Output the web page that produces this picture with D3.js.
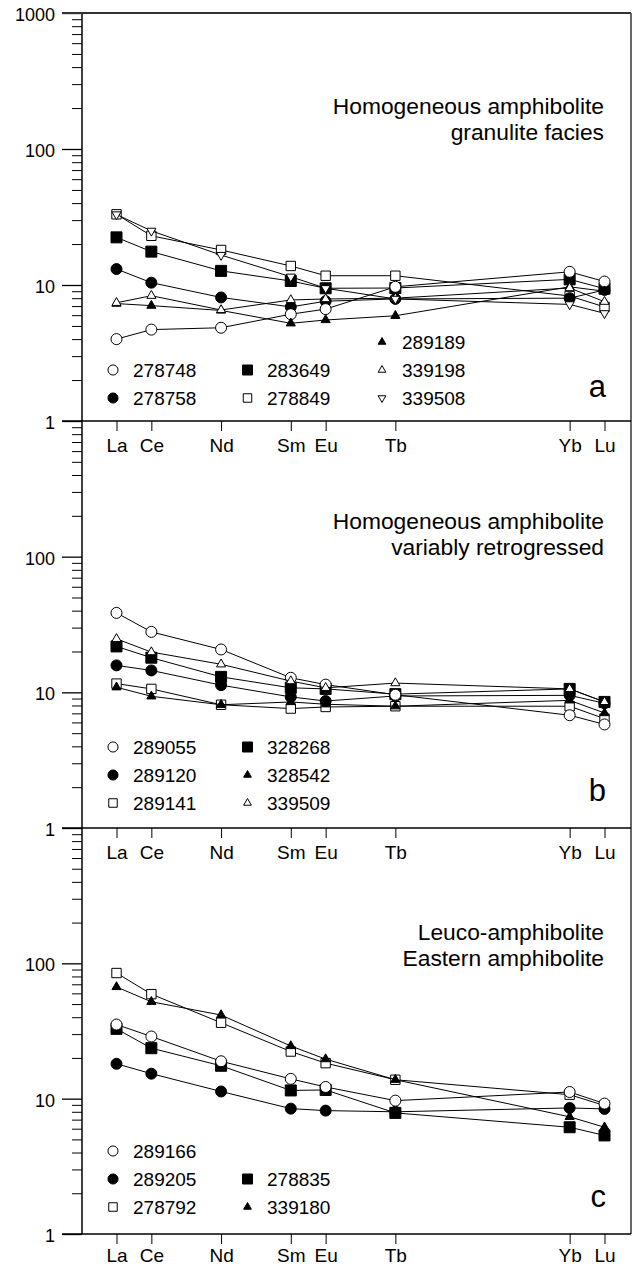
<!DOCTYPE html>
<html><head><meta charset="utf-8">
<script src="https://cdn.jsdelivr.net/npm/d3@7"></script>
<style>
body{margin:0;background:#fff}
svg{display:block}
text{font-family:"Liberation Sans",Arial,Helvetica,sans-serif;fill:#000}
</style>
</head><body>
<svg id="chart" width="634" height="1267"></svg>
<script>
// ---------- data ----------
const elements = ["La","Ce","Nd","Sm","Eu","Tb","Yb","Lu"];
const atomicNumbers = [57,58,60,62,63,65,70,71];
const yMajorTop = [1,10,100,1000];
const yMajorRest = [1,10,100];
const yMinor = [2,3,4,5,6,7,8,9,20,30,40,50,60,70,80,90,200,300,400,500,600,700,800,900];

// panel a (draw order)
const samplesA = ["283649","278849","278758","278748","289189","339198","339508"];
const symbolsA = ["square-filled","square-open","circle-filled","circle-open","triangle-filled","triangle-open","triangledown-open"];
const valuesA = [
  [22.4,17.6,12.7,10.7,9.46,9.5,11.0,9.4],
  [33.1,23.0,18.1,13.8,11.7,11.7,8.3,6.9],
  [13.1,10.4,8.1,6.9,7.6,7.9,8.0,9.2],
  [4.0,4.7,4.85,6.1,6.65,9.7,12.5,10.6],
  [7.3,7.05,6.5,5.23,5.53,5.94,9.7,9.0],
  [7.4,8.34,6.55,7.76,7.89,8.0,9.5,7.54],
  [33.0,25.0,16.6,11.5,9.46,7.9,7.2,6.19]
];
const legendA = [[null,null,"289189"],["278748","283649","339198"],["278758","278849","339508"]];

// panel b
const samplesB = ["328268","289141","289120","289055","328542","339509"];
const symbolsB = ["square-filled","square-open","circle-filled","circle-open","triangle-filled","triangle-open"];
const valuesB = [
  [21.8,18.0,13.0,10.8,10.6,9.7,10.6,8.5],
  [11.6,10.6,8.1,7.59,7.8,7.9,7.9,6.4],
  [15.8,14.5,11.3,9.25,8.63,9.4,9.5,8.3],
  [38.5,27.9,20.7,12.8,11.4,9.6,6.78,5.8],
  [10.9,9.35,8.1,8.49,8.17,7.9,8.73,7.04],
  [24.8,19.8,16.1,12.1,10.8,11.7,10.6,8.5]
];
const legendB = [["289055","328268"],["289120","328542"],["289141","339509"]];

// panel c
const samplesC = ["278835","278792","289205","289166","339180"];
const symbolsC = ["square-filled","square-open","circle-filled","circle-open","triangle-filled"];
const valuesC = [
  [32.8,23.6,17.5,11.5,11.6,7.85,6.15,5.35],
  [84.8,59.2,36.4,22.3,18.3,13.8,10.7,8.9],
  [18.1,15.3,11.3,8.44,8.16,8.0,8.54,8.4],
  [35.3,28.8,18.9,14.0,12.2,9.67,11.2,9.2],
  [66.9,52.0,41.5,24.5,19.6,13.8,7.34,6.15]
];
const legendC = [["289166",null],["289205","278835"],["278792","339180"]];

const titles = [
  ["Homogeneous amphibolite","granulite facies"],
  ["Homogeneous amphibolite","variably retrogressed"],
  ["Leuco-amphibolite","Eastern amphibolite"]
];
const letters = ["a","b","c"];

// ---------- layout ----------
const FONT = "'Liberation Sans',Arial,Helvetica,sans-serif";
const AXIS_X = 82, RIGHT = 631;
const panels = [
  {top:13,  bottom:421,  major:yMajorTop,  samples:samplesA, symbols:symbolsA, values:valuesA, legend:legendA, titleY:114, letterY:397, legendY:342, xPad:7.5},
  {top:421, bottom:828,  major:yMajorRest, samples:samplesB, symbols:symbolsB, values:valuesB, legend:legendB, titleY:529, letterY:801, legendY:747, xPad:7.5},
  {top:828, bottom:1234, major:yMajorRest, samples:samplesC, symbols:symbolsC, values:valuesC, legend:legendC, titleY:940, letterY:1207, legendY:1151, xPad:4.5}
];
const legendMarkerX = [113,247.5,382];
const legendTextX = [133,267,402];
const legendRowGap = 28;

const svg = d3.select("#chart");
const x = d3.scaleLinear().domain([57,71]).range([116.5,604.5]);

function symPath(sym, legend){
  const [shape, fill] = sym.split("-");
  let type, size;
  if (shape === "circle"){ type = d3.symbolCircle; size = legend ? 80 : 95; }
  else if (shape === "square"){ type = d3.symbolSquare; size = fill === "filled" ? (legend ? 100 : 121) : (legend ? 72 : 88); }
  else { type = d3.symbolTriangle; size = legend ? 26 : 36; }
  return d3.symbol().type(type).size(size)();
}
function drawSym(g, sym, cx, cy, legend){
  const fill = sym.endsWith("filled") ? "#000" : "#fff";
  const rot = sym.startsWith("triangledown") ? " rotate(180)" : "";
  g.append("path").attr("d", symPath(sym, legend))
    .attr("transform", `translate(${cx},${cy})${rot}`)
    .attr("fill", fill).attr("stroke", "#000").attr("stroke-width", 1);
}

panels.forEach((p, pi) => {
  const y = d3.scaleLog().domain([1,1000]).range([p.bottom, p.top]);
  const g = svg.append("g");

  g.append("g").attr("transform", `translate(${AXIS_X},0)`)
    .call(d3.axisLeft(y).tickValues(yMinor).tickSize(10).tickFormat(""))
    .call(s => s.select(".domain").remove())
    .attr("color", "#000");
  const ya = g.append("g").attr("transform", `translate(${AXIS_X},0)`)
    .call(d3.axisLeft(y).tickValues(p.major).tickSize(20).tickPadding(7).tickFormat(d3.format("d")))
    .call(s => s.select(".domain").remove())
    .attr("color", "#000").attr("font-family", FONT).attr("font-size", 18);
  ya.selectAll("line").attr("stroke-width", 1.3);
  ya.selectAll("text").attr("dy", "0.42em").attr("fill", "#000");

  const xa = g.append("g").attr("transform", `translate(0,${p.bottom})`)
    .call(d3.axisBottom(x).tickValues(atomicNumbers).tickFormat((d,i) => elements[i]).tickSize(10).tickPadding(p.xPad))
    .call(s => s.select(".domain").remove())
    .attr("color", "#000").attr("font-family", FONT).attr("font-size", 19);
  xa.selectAll("text").attr("fill", "#000");

  const line = d3.line().x((d,i) => x(atomicNumbers[i])).y(d => y(d));
  p.samples.forEach((s, si) => {
    const vals = p.values[si];
    const sg = g.append("g");
    sg.append("path").attr("d", line(vals)).attr("fill", "none").attr("stroke", "#000").attr("stroke-width", 1);
    vals.forEach((v, i) => drawSym(sg, p.symbols[si], x(atomicNumbers[i]), y(v), false));
  });

  titles[pi].forEach((t, li) => {
    g.append("text").attr("x", 604).attr("y", p.titleY + li*26)
      .attr("text-anchor", "end").attr("font-size", 22.8).text(t);
  });
  g.append("text").attr("x", 606).attr("y", p.letterY).attr("text-anchor", "end")
    .attr("font-size", 31).text(letters[pi]);

  p.legend.forEach((row, ri) => {
    row.forEach((name, ci) => {
      if (!name) return;
      const si = p.samples.indexOf(name);
      const cy = p.legendY + ri*legendRowGap;
      drawSym(g, p.symbols[si], legendMarkerX[ci], cy, true);
      g.append("text").attr("x", legendTextX[ci]).attr("y", cy).attr("dy", "0.36em")
        .attr("font-size", 19).text(name);
    });
  });
});

svg.append("line").attr("x1", AXIS_X).attr("x2", AXIS_X).attr("y1", panels[0].top).attr("y2", panels[2].bottom)
  .attr("stroke", "#000").attr("stroke-width", 1.5);
svg.append("line").attr("x1", RIGHT).attr("x2", RIGHT).attr("y1", panels[0].top).attr("y2", panels[2].bottom)
  .attr("stroke", "#000").attr("stroke-width", 1.2);
[panels[0].top].concat(panels.map(p => p.bottom)).forEach((yy, i) => {
  svg.append("line").attr("x1", 62).attr("x2", RIGHT).attr("y1", yy).attr("y2", yy)
    .attr("stroke", i === 0 ? "#333" : "#000").attr("stroke-width", i === 0 ? 1.8 : 1.3);
});
</script>
</body></html>
